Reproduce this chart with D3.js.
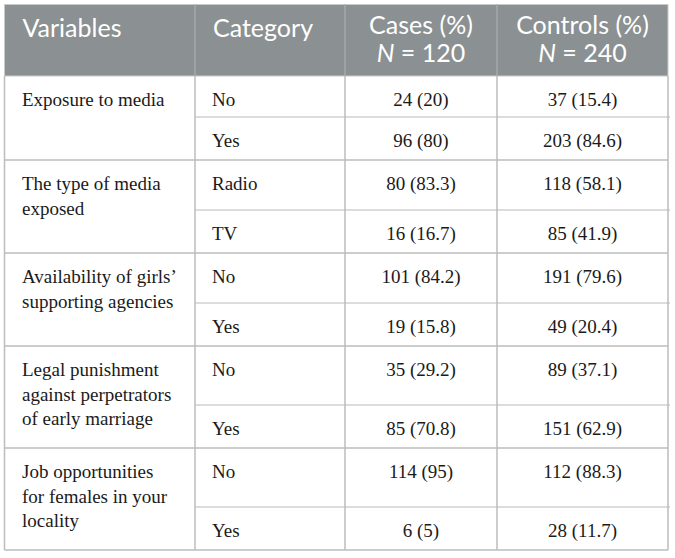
<!DOCTYPE html>
<html>
<head>
<meta charset="utf-8">
<script src="https://cdn.jsdelivr.net/npm/d3@7"></script>
<style>
  body { margin: 0; background: #fff; }
</style>
</head>
<body>
<div id="chart"></div>
<script>
// table content
var headers = ['Variables', 'Category', 'Cases (%)', 'Controls (%)'];
var headerN = ['', '', '120', '240'];
var variables = [
  ['Exposure to media'],
  ['The type of media', 'exposed'],
  ['Availability of girls\u2019', 'supporting agencies'],
  ['Legal punishment', 'against perpetrators', 'of early marriage'],
  ['Job opportunities', 'for females in your', 'locality']
];
var categories = [['No', 'Yes'], ['Radio', 'TV'], ['No', 'Yes'], ['No', 'Yes'], ['No', 'Yes']];
var cases = [['24 (20)', '96 (80)'], ['80 (83.3)', '16 (16.7)'], ['101 (84.2)', '19 (15.8)'],
             ['35 (29.2)', '85 (70.8)'], ['114 (95)', '6 (5)']];
var controls = [['37 (15.4)', '203 (84.6)'], ['118 (58.1)', '85 (41.9)'], ['191 (79.6)', '49 (20.4)'],
                ['89 (37.1)', '151 (62.9)'], ['112 (88.3)', '28 (11.7)']];

var width = 675, height = 558;
var left = 4.5, right = 668, tableTop = 4.5, headH = 71.5;
var colX = [left, 195, 345, 497, right];
var border = '#bdbdbd';
var headFont = 'Lato, "Open Sans", sans-serif';
var bodyFont = '"Liberation Serif", "Times New Roman", serif';

var svg = d3.select('#chart').append('svg')
  .attr('width', width).attr('height', height);

// header
svg.append('rect')
  .attr('x', left).attr('y', tableTop).attr('width', right - left).attr('height', headH)
  .style('fill', '#8b9192').style('stroke', '#c8cbcc').style('stroke-width', 1);

for (var i = 1; i < 4; i++) {
  svg.append('line')
    .attr('x1', colX[i]).attr('x2', colX[i]).attr('y1', tableTop).attr('y2', tableTop + headH)
    .style('stroke', '#a3a8a9').style('stroke-width', 1.5);
}

headers.forEach(function(h, i){
  var centered = i >= 2;
  var x = centered ? (colX[i] + colX[i + 1]) / 2 : colX[i] + 18;
  svg.append('text')
    .attr('x', x).attr('y', centered ? 34 : 37)
    .attr('text-anchor', centered ? 'middle' : 'start')
    .style('font-family', headFont)
    .style('font-size', '25px').style('fill', '#fff')
    .text(h);
  if (headerN[i]) {
    var t2 = svg.append('text')
      .attr('x', x).attr('y', 62)
      .attr('text-anchor', 'middle')
      .style('font-family', headFont)
      .style('font-size', '25px').style('fill', '#fff');
    t2.append('tspan').style('font-style', 'italic').text('N');
    t2.append('tspan').text(' = ' + headerN[i]);
  }
});

// body rows: first row of a group grows with the number of label lines
var y = tableTop + headH;
var lineH = 24.5;
var body = svg.append('g');

function cellText(x, yy, txt, anchor){
  return body.append('text')
    .attr('x', x).attr('y', yy)
    .attr('text-anchor', anchor || 'start')
    .style('font-family', bodyFont)
    .style('font-size', '19px').style('fill', '#1a1a1a')
    .text(txt);
}

variables.forEach(function(v, g){
  var h1 = 32 + 9 * v.length;
  var h2 = 43;
  var rowTops = [y, y + h1];

  v.forEach(function(line, k){
    cellText(colX[0] + 17.5, y + 30 + k * lineH, line);
  });

  rowTops.forEach(function(ry, r){
    cellText(colX[1] + 17, ry + 30, categories[g][r]);
    cellText((colX[2] + colX[3]) / 2, ry + 30, cases[g][r], 'middle');
    cellText((colX[3] + colX[4]) / 2, ry + 30, controls[g][r], 'middle');
  });

  // inner line between the two categories
  body.append('line')
    .attr('x1', colX[1]).attr('x2', right + 2).attr('y1', y + h1).attr('y2', y + h1)
    .style('stroke', '#d0d0d0').style('stroke-width', 1.5);

  y += h1 + h2;
  // group separator
  body.append('line')
    .attr('x1', left).attr('x2', right).attr('y1', y).attr('y2', y)
    .style('stroke', border).style('stroke-width', 1.5);
});

// vertical lines in body
colX.forEach(function(x){
  body.append('line')
    .attr('x1', x).attr('x2', x).attr('y1', tableTop + headH).attr('y2', y)
    .style('stroke', border).style('stroke-width', 1.5);
});
</script>
</body>
</html>
